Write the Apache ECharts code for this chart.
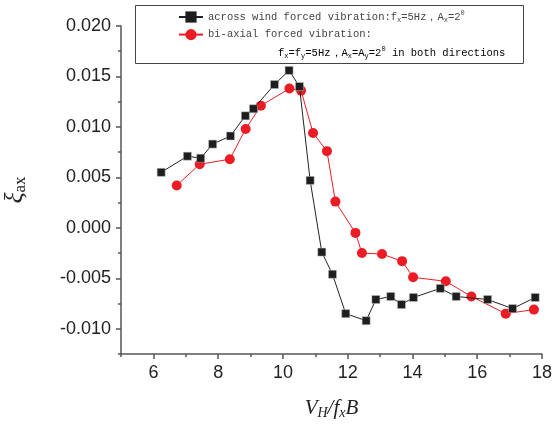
<!DOCTYPE html>
<html>
<head>
<meta charset="utf-8">
<script src="https://cdn.jsdelivr.net/npm/echarts@6/dist/echarts.min.js"></script>
<style>
  html, body { margin: 0; padding: 0; background: #fff; }
  #chart { width: 560px; height: 427px; }
</style>
</head>
<body>
<div id="chart"></div>
<script>
// across wind forced vibration (black squares)
const acrossX = [6.24, 7.05, 7.46, 7.83, 8.38, 8.84, 9.09, 9.74, 10.19, 10.51, 10.84, 11.2, 11.53, 11.94, 12.57, 12.87, 13.33, 13.66, 14.03, 14.86, 15.35, 16.32, 17.09, 17.79];
const acrossY = [0.0055, 0.0071, 0.0069, 0.0083, 0.0091, 0.0111, 0.0118, 0.0142, 0.0156, 0.0140, 0.0047, -0.0024, -0.0046, -0.0085, -0.0092, -0.0071, -0.0068, -0.0076, -0.0069, -0.0060, -0.0068, -0.0071, -0.0080, -0.0069];

// bi-axial forced vibration (red circles)
const biaxX = [6.72, 7.43, 8.36, 8.85, 9.32, 10.2, 10.56, 10.93, 11.36, 11.62, 12.24, 12.44, 13.06, 13.68, 14.02, 15.03, 15.82, 16.88, 17.75];
const biaxY = [0.0042, 0.0063, 0.0068, 0.0098, 0.0121, 0.0138, 0.0136, 0.0094, 0.0076, 0.0026, -0.0005, -0.0025, -0.0026, -0.0033, -0.0049, -0.0053, -0.0068, -0.0085, -0.0081];

// ticks
const xMajor = [6, 8, 10, 12, 14, 16, 18];
const xMinor = [5, 7, 9, 11, 13, 15, 17];
const yMajor = [-0.010, -0.005, 0.000, 0.005, 0.010, 0.015, 0.020];
const yMinor = [-0.0125, -0.0075, -0.0025, 0.0025, 0.0075, 0.0125, 0.0175];

const legendRich = {
  n: { fontFamily: 'Liberation Mono', fontSize: 10.5, color: '#444', lineHeight: 14 },
  s: { fontFamily: 'Liberation Mono', fontSize: 7, color: '#444', lineHeight: 7, verticalAlign: 'bottom' },
  p: { fontFamily: 'Liberation Mono', fontSize: 7, color: '#444', lineHeight: 7, verticalAlign: 'top' }
};

const axisLineStyle = { color: '#555', width: 1.5 };

const chart = echarts.init(document.getElementById('chart'));

chart.setOption({
  animation: false,
  grid: { left: 121, top: 26, right: 18, bottom: 73, outerBoundsMode: 'none', containLabel: false },
  graphic: [
    {
      type: 'rect',
      left: 135, top: 5,
      shape: { width: 388, height: 58 },
      style: { fill: '#fff', stroke: '#444', lineWidth: 1 },
      z: 0
    },
    {
      type: 'text',
      left: 278, top: 46,
      z: 10,
      style: {
        text: '{n|f}{s|x}{n|=f}{s|y}{n|=5Hz，A}{s|x}{n|=A}{s|y}{n|=2}{p|0}{n| in both directions}',
        rich: legendRich
      }
    }
  ],
  legend: {
    orient: 'vertical',
    left: 135, top: 5,
    padding: [5, 10, 5, 43],
    itemWidth: 24, itemHeight: 14, itemGap: 5,
    z: 10,
    data: [
      { name: 'across wind forced vibration', itemStyle: { borderWidth: 0 } },
      { name: 'bi-axial forced vibration' }
    ],
    formatter: function (name) {
      if (name === 'across wind forced vibration') {
        return '{n|across wind forced vibration:f}{s|x}{n|=5Hz，A}{s|x}{n|=2}{p|0}';
      }
      return '{n|bi-axial forced vibration:}';
    },
    textStyle: { rich: legendRich }
  },
  xAxis: [
    {
      type: 'value', min: 5, max: 18, position: 'bottom',
      axisLine: { onZero: false, lineStyle: axisLineStyle },
      axisTick: { inside: false, customValues: xMajor, length: 5, lineStyle: axisLineStyle },
      axisLabel: {
        customValues: xMajor, margin: 10,
        fontFamily: 'Liberation Sans', fontSize: 18, color: '#222'
      },
      splitLine: { show: false },
      name: '{i|V}{s|H}{i|/f}{s|x}{i|B}',
      nameLocation: 'middle', nameGap: 42,
      nameTextStyle: {
        rich: {
          i: { fontFamily: 'Liberation Serif', fontStyle: 'italic', fontSize: 21, color: '#222', lineHeight: 24 },
          s: { fontFamily: 'Liberation Serif', fontStyle: 'italic', fontSize: 14, color: '#222', lineHeight: 14, verticalAlign: 'bottom' }
        }
      }
    },
    {
      type: 'value', min: 5, max: 18, position: 'bottom',
      axisLine: { show: false, onZero: false },
      axisTick: { inside: false, customValues: xMinor, length: 3, lineStyle: axisLineStyle },
      axisLabel: { show: false },
      splitLine: { show: false }
    }
  ],
  yAxis: [
    {
      type: 'value', min: -0.0125, max: 0.020, position: 'left',
      axisLine: { show: true, onZero: false, lineStyle: axisLineStyle },
      axisTick: { show: true, inside: false, customValues: yMajor, length: 5, lineStyle: axisLineStyle },
      axisLabel: {
        customValues: yMajor, margin: 10,
        fontFamily: 'Liberation Sans', fontSize: 18, color: '#222',
        formatter: v => v.toFixed(3)
      },
      splitLine: { show: false },
      name: '{x|ξ}{s|ax}',
      nameLocation: 'middle', nameGap: 92, nameRotate: 90,
      nameTextStyle: {
        rich: {
          x: { fontFamily: 'Liberation Serif', fontStyle: 'italic', fontSize: 26, color: '#222', lineHeight: 28 },
          s: { fontFamily: 'Liberation Serif', fontSize: 17, color: '#222', lineHeight: 17, verticalAlign: 'bottom' }
        }
      }
    },
    {
      type: 'value', min: -0.0125, max: 0.020, position: 'left',
      axisLine: { show: false, onZero: false },
      axisTick: { show: true, inside: false, customValues: yMinor, length: 3, lineStyle: axisLineStyle },
      axisLabel: { show: false },
      splitLine: { show: false }
    }
  ],
  series: [
    {
      name: 'across wind forced vibration',
      type: 'line',
      xAxisIndex: 0, yAxisIndex: 0,
      data: acrossX.map((x, i) => [x, acrossY[i]]),
      symbol: 'rect', symbolSize: 8,
      lineStyle: { color: '#222', width: 1 },
      itemStyle: { color: '#1e1e1e', borderColor: '#bbb', borderWidth: 0.5 },
      z: 3
    },
    {
      name: 'bi-axial forced vibration',
      type: 'line',
      xAxisIndex: 0, yAxisIndex: 0,
      data: biaxX.map((x, i) => [x, biaxY[i]]),
      symbol: 'circle', symbolSize: 10,
      lineStyle: { color: '#ec1c24', width: 1 },
      itemStyle: { color: '#ec1c24' },
      z: 2
    }
  ]
});
</script>
</body>
</html>
